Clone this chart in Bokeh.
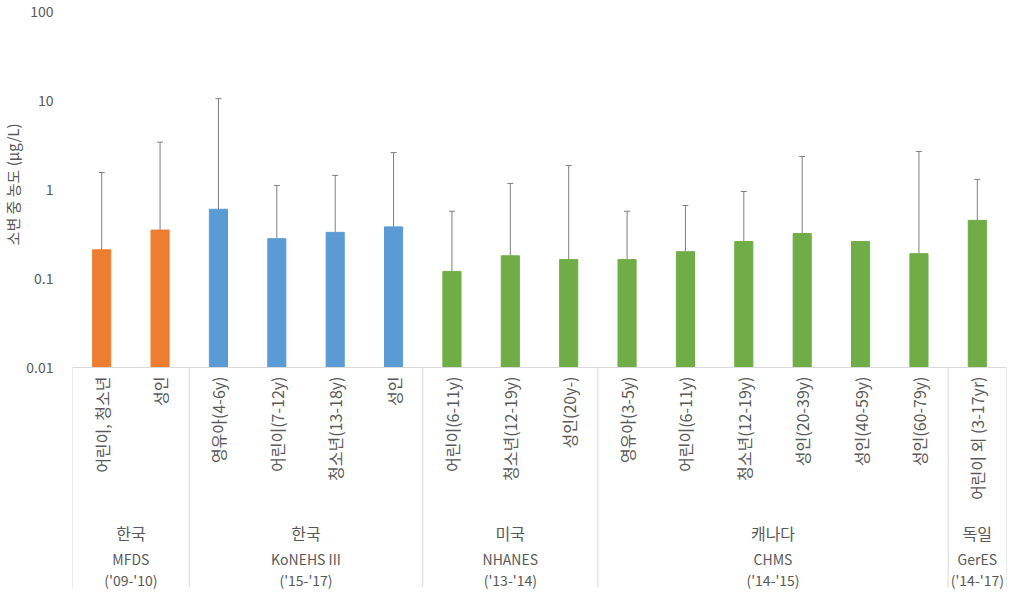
import math
from bokeh.plotting import figure
from bokeh.models import (Range1d, FixedTicker, CustomJSTickFormatter, ColumnDataSource,
                          Whisker, TeeHead, Title)
from bokeh.embed import file_html
from bokeh.resources import INLINE
from bokeh.core.properties import value

# ---- data ----
labels = ["어린이, 청소년", "성인",
          "영유아(4-6y)", "어린이(7-12y)", "청소년(13-18y)", "성인",
          "어린이(6-11y)", "청소년(12-19y)", "성인(20y-)",
          "영유아(3-5y)", "어린이(6-11y)", "청소년(12-19y)", "성인(20-39y)", "성인(40-59y)", "성인(60-79y)",
          "어린이 외 (3-17yr)"]
means = [0.21, 0.35, 0.60, 0.28, 0.33, 0.38, 0.12, 0.18, 0.163, 0.163, 0.20, 0.26, 0.32, 0.26, 0.19, 0.45]
uppers = [1.55, 3.4, 10.5, 1.11, 1.44, 2.6, 0.57, 1.17, 1.86, 0.57, 0.66, 0.95, 2.35, None, 2.67, 1.3]
countries = ["한국", "한국", "미국", "캐나다", "독일"]
surveys = ["MFDS", "KoNEHS III", "NHANES", "CHMS", "GerES"]
periods = ["('09-'10)", "('15-'17)", "('13-'14)", "('14-'15)", "('14-'17)"]
group_sizes = [2, 4, 3, 6, 1]
group_colors = ["#ED7D31", "#5B9BD5", "#70AD47", "#70AD47", "#70AD47"]
y_ticks = [0.01, 0.1, 1, 10, 100]
y_min, y_max = 0.01, 100

FONT_NAME = "Noto Sans CJK KR"
FONT = value(FONT_NAME)
TXT = "#595959"
GRID = "#d9d9d9"

# layout (pixels)
LEFT, TOP, RIGHT = 72, 11, 2
PLOT_W, PLOT_H, TABLE_H = 934, 356, 232
DEC = PLOT_H / math.log10(y_max / y_min)          # pixels per decade


def below(px):
    """log-axis value lying px pixels below the 0.01 baseline (category table area)"""
    return y_min * 10 ** (-px / DEC)


n = len(labels)
xs = [i + 0.5 for i in range(n)]
colors = []
for c, s in zip(group_colors, group_sizes):
    colors += [c] * s

bounds = [0]
for s in group_sizes:
    bounds.append(bounds[-1] + s)
centers = [(a + b) / 2 for a, b in zip(bounds[:-1], bounds[1:])]

p = figure(width=LEFT + PLOT_W + RIGHT, height=TOP + PLOT_H + TABLE_H,
           x_range=Range1d(0, n), y_range=Range1d(below(TABLE_H), y_max),
           y_axis_type="log", x_axis_type=None, output_backend="svg",
           toolbar_location=None, min_border_left=LEFT, min_border_right=RIGHT,
           min_border_top=TOP, min_border_bottom=0)
p.outline_line_color = None
p.grid.visible = False

# bars
src = ColumnDataSource(dict(x=xs, top=means, color=colors))
p.vbar(x="x", top="top", bottom=y_min, width=0.31, color="color", source=src)

# error bars (upper only)
ex = [x for x, u in zip(xs, uppers) if u is not None]
elo = [m for m, u in zip(means, uppers) if u is not None]
ehi = [u for u in uppers if u is not None]
esrc = ColumnDataSource(dict(x=ex, lo=elo, hi=ehi))
p.add_layout(Whisker(base="x", lower="lo", upper="hi", source=esrc, line_color="#7f7f7f",
                     line_width=1,
                     upper_head=TeeHead(size=6, line_color="#7f7f7f", line_width=1),
                     lower_head=None))

# y axis
ya = p.yaxis[0]
ya.ticker = FixedTicker(ticks=y_ticks)
ya.formatter = CustomJSTickFormatter(code="return tick.toString();")
ya.axis_line_color = None
ya.major_tick_line_color = None
ya.minor_tick_line_color = None
ya.major_label_standoff = 13
ya.major_label_text_font = FONT_NAME
ya.major_label_text_font_size = "14px"
ya.major_label_text_color = TXT

# axis title placed over the bar area only (offset from the frame top)
p.add_layout(Title(text="소변 중 농도 (μg/L)", align="right", offset=112,
                   vertical_align="middle", text_font=FONT_NAME, text_font_size="15px",
                   text_font_style="normal", text_color=TXT, standoff=0), "left")

# category table
p.segment(x0=[0], y0=[y_min], x1=[n], y1=[y_min], line_color=GRID, line_width=1)
p.segment(x0=bounds, y0=[y_min] * len(bounds), x1=bounds, y1=[below(220)] * len(bounds),
          line_color=GRID, line_width=1)

p.text(x=xs, y=[below(9)] * n, text=labels, angle=math.pi / 2, text_align="right",
       text_baseline="middle", text_font=FONT, text_font_size="16px", text_color=TXT)
p.text(x=centers, y=[below(165)] * len(centers), text=countries, text_align="center",
       text_baseline="middle", text_font=FONT, text_font_size="16px", text_color=TXT)
p.text(x=centers, y=[below(191)] * len(centers), text=surveys, text_align="center",
       text_baseline="middle", text_font=FONT, text_font_size="14px", text_color=TXT)
p.text(x=centers, y=[below(212)] * len(centers), text=periods, text_align="center",
       text_baseline="middle", text_font=FONT, text_font_size="14px", text_color=TXT)

open("out.html", "w").write(file_html(p, INLINE))
